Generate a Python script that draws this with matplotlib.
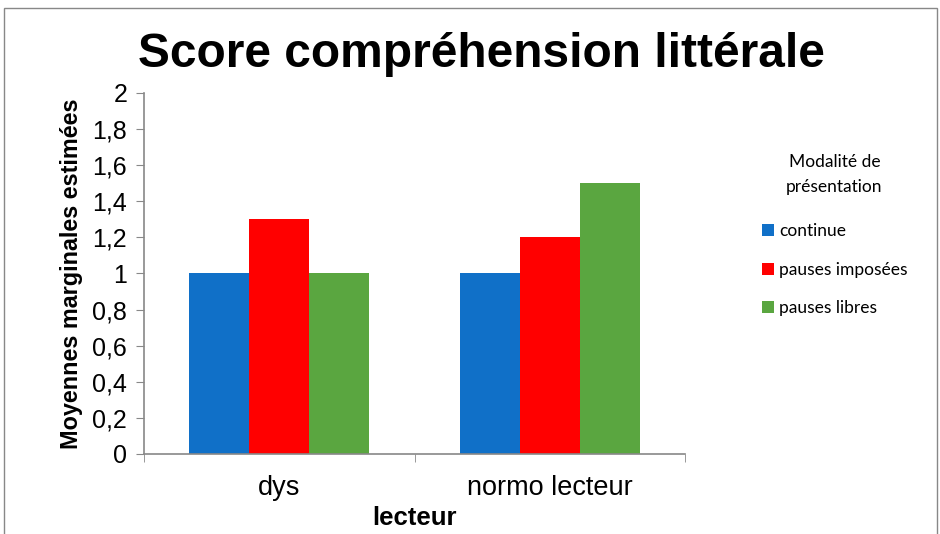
import numpy as np
import matplotlib.pyplot as plt
from matplotlib.patches import Rectangle

# Data
categories = ['dys', 'normo lecteur']
series_names = ['continue', 'pauses imposées', 'pauses libres']
continue_vals = [1.0, 1.0]
imposees_vals = [1.3, 1.2]
libres_vals = [1.0, 1.5]
colors = ['#1070C8', '#FF0000', '#5AA640']

plt.rcParams['font.family'] = ['Liberation Sans', 'DejaVu Sans']

fig = plt.figure(figsize=(9.4, 5.34), dpi=100)
ax = fig.add_axes([0.153, 0.150, 0.576, 0.676])

x = np.arange(len(categories))
w = 1 / 4.5
values = [continue_vals, imposees_vals, libres_vals]
for i, (name, vals) in enumerate(zip(series_names, values)):
    ax.bar(x + (i - 1) * w, vals, width=w, color=colors[i], label=name)

ax.set_xlim(-0.5, 1.5)
ax.set_ylim(0, 2)
yt = np.arange(0, 2.01, 0.2)
ax.set_yticks(yt)
ax.set_yticklabels([('%g' % v).replace('.', ',') for v in yt], fontsize=18)
ax.set_xticks(x)
ax.set_xticklabels(categories, fontsize=19.5)
ax.set_xticks([-0.5, 0.5, 1.5], minor=True)
ax.tick_params(axis='x', which='major', length=0, pad=15)
ax.tick_params(axis='x', which='minor', length=6, color='#888888')
ax.tick_params(axis='y', length=6, color='#888888', pad=6)

for s in ['top', 'right']:
    ax.spines[s].set_visible(False)
for s in ['left', 'bottom']:
    ax.spines[s].set_color('#888888')
    ax.spines[s].set_linewidth(1.2)

ax.set_ylabel('Moyennes marginales estimées', fontsize=16.8, fontweight='bold', labelpad=7)
ax.set_xlabel('lecteur', fontsize=18.5, fontweight='bold', labelpad=4)

fig.text(0.512, 0.898, 'Score compréhension littérale', fontsize=34.5,
         fontweight='bold', ha='center', va='center')

leg = ax.legend(loc='upper left', bbox_to_anchor=(1.112, 0.875), frameon=False,
                title='Modalité de\nprésentation', handlelength=0.7,
                handleheight=0.7, handletextpad=0.3, labelspacing=1.3,
                alignment='center', prop={'family': 'Lato', 'size': 12.5})
leg.get_title().set_family('Lato')
leg.get_title().set_fontsize(12.5)
leg.get_title().set_multialignment('center')
leg.get_title().set_linespacing(1.7)
leg._legend_box.sep = 20.5

# chart border
fig.patches.append(Rectangle((4 / 940, -0.1), 933 / 940, 1.1 - 8 / 534,
                             transform=fig.transFigure, fill=False,
                             edgecolor='#888888', linewidth=1))

fig.savefig('out.png', dpi=100)
